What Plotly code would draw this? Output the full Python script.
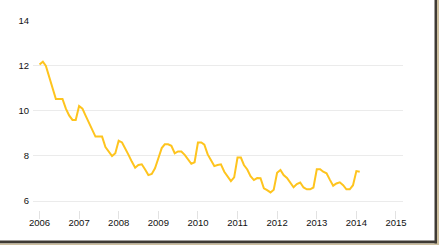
import plotly.graph_objects as go
import pandas as pd

start_month = "2006-01-01"
values = [
    12.06, 12.19, 12.0, 11.5, 11.0, 10.53, 10.53, 10.53, 10.1, 9.8, 9.6, 9.6,
    10.22, 10.1, 9.8, 9.5, 9.15, 8.86, 8.86, 8.86, 8.4, 8.2, 8.0, 8.12,
    8.68, 8.6, 8.35, 8.05, 7.75, 7.48, 7.6, 7.63, 7.4, 7.15, 7.2, 7.45,
    7.9, 8.35, 8.52, 8.52, 8.45, 8.12, 8.2, 8.2, 8.05, 7.85, 7.65, 7.72,
    8.6, 8.6, 8.5, 8.07, 7.82, 7.55, 7.6, 7.63, 7.3, 7.1, 6.88, 7.05,
    7.93, 7.93, 7.6, 7.4, 7.1, 6.93, 7.02, 7.01, 6.56, 6.48, 6.38, 6.5,
    7.25, 7.38, 7.15, 7.02, 6.8, 6.61, 6.75, 6.82, 6.6, 6.52, 6.52, 6.6,
    7.41, 7.41, 7.3, 7.23, 6.95, 6.68, 6.78, 6.83, 6.7, 6.52, 6.52, 6.7,
    7.33, 7.30,
]
dates = pd.date_range(start_month, periods=len(values), freq="MS")

y_ticks = [6, 8, 10, 12, 14]
x_tick_years = [str(y) + "-01-01" for y in range(2006, 2016)]
x_tick_labels = [str(y) for y in range(2006, 2016)]

fig = go.Figure()
fig.add_trace(go.Scatter(
    x=dates, y=values, mode="lines",
    line=dict(color="#fec41e", width=2),
    hoverinfo="skip",
))

W, H = 439, 245
L, R, T, B = 33, 36, 20, 35
pw, ph = W - L - R, H - T - B

def px_x(p):
    return (p - L) / pw

def px_y(p):
    return (H - B - p) / ph

shapes = [
    dict(type="rect", xref="paper", yref="paper", x0=px_x(434.5), x1=px_x(437), y0=px_y(245), y1=px_y(0),
         fillcolor="#3e3a34", line=dict(width=0), layer="above"),
    dict(type="rect", xref="paper", yref="paper", x0=px_x(437), x1=px_x(439.5), y0=px_y(245), y1=px_y(0),
         fillcolor="#cdbf9f", line=dict(width=0), layer="above"),
    dict(type="rect", xref="paper", yref="paper", x0=px_x(0), x1=px_x(437), y0=px_y(243.5), y1=px_y(240.5),
         fillcolor="#3e3a34", line=dict(width=0), layer="above"),
    dict(type="rect", xref="paper", yref="paper", x0=px_x(0), x1=px_x(439.5), y0=px_y(245.5), y1=px_y(243.5),
         fillcolor="#cdbf9f", line=dict(width=0), layer="above"),
]

fig.update_layout(
    width=W, height=H,
    margin=dict(l=L, r=R, t=T, b=B),
    paper_bgcolor="white", plot_bgcolor="white",
    showlegend=False,
    font=dict(family="Liberation Sans, Arial", size=9.5, color="#111111"),
    shapes=shapes,
    xaxis=dict(
        type="date",
        range=["2005-11-02", "2015-03-07"],
        tickvals=x_tick_years, ticktext=x_tick_labels,
        showgrid=False, zeroline=False, showline=False,
        ticks="outside", ticklen=8, tickcolor="#e2e2e2", tickwidth=1,
        ticklabelstandoff=-4,
        tickfont=dict(size=9.5, color="#111111"),
    ),
    yaxis=dict(
        range=[5.6, 14.04],
        tickvals=y_ticks,
        showgrid=True, gridcolor="#ebebeb", gridwidth=1.3,
        zeroline=False, showline=False, ticks="",
        ticklabelstandoff=3,
        tickfont=dict(size=9.5, color="#111111"),
    ),
)

fig.write_html("out.html")
